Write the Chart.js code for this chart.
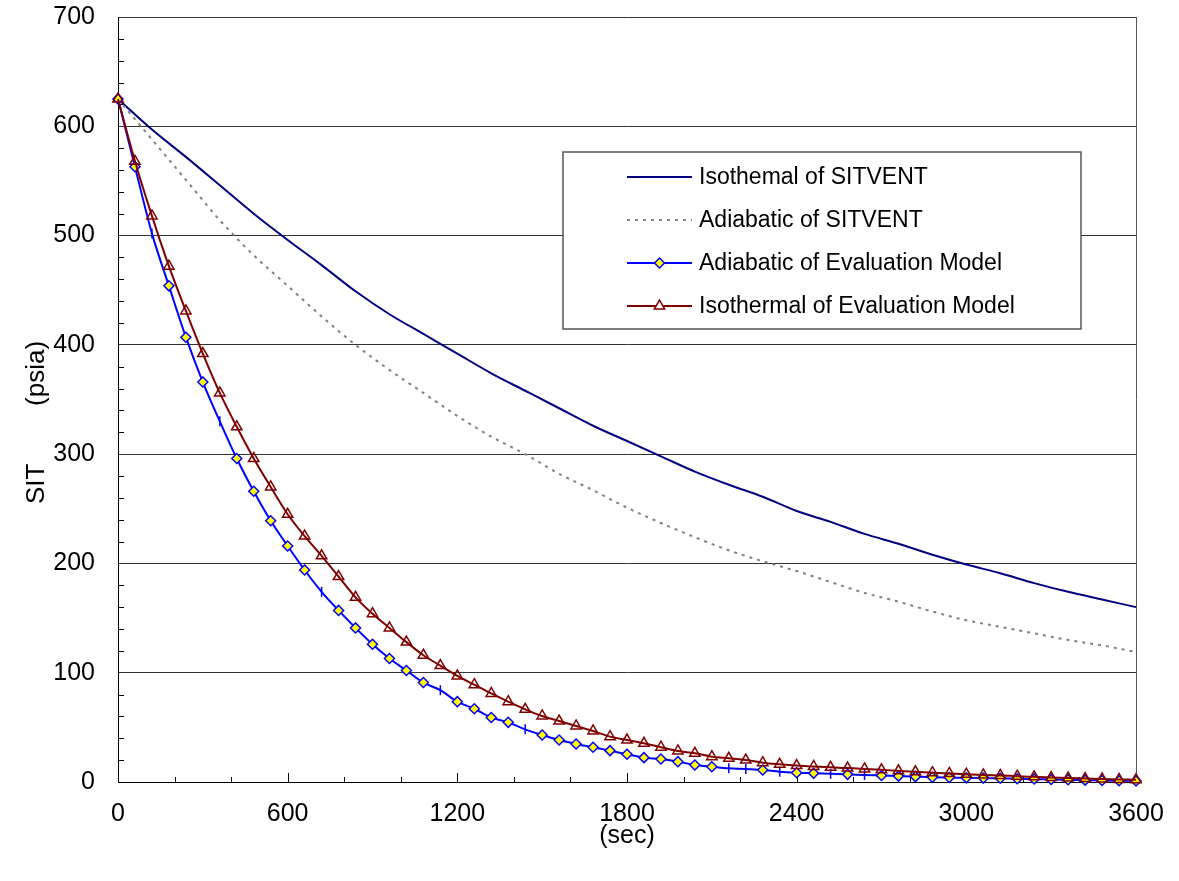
<!DOCTYPE html>
<html>
<head>
<meta charset="utf-8">
<script src="https://cdn.jsdelivr.net/npm/chart.js@4.4.0/dist/chart.umd.min.js"></script>
<style>
  html, body { margin: 0; padding: 0; background: #fff; }
</style>
</head>
<body>
<canvas id="sitChart" width="1179" height="881"></canvas>
<script>
// time axis of the evaluation model runs (sec)
const evalTimes = [0, 60, 120, 180, 240, 300, 360, 420, 480, 540, 600, 660, 720, 780, 840, 900,
  960, 1020, 1080, 1140, 1200, 1260, 1320, 1380, 1440, 1500, 1560, 1620, 1680, 1740, 1800,
  1860, 1920, 1980, 2040, 2100, 2160, 2220, 2280, 2340, 2400, 2460, 2520, 2580, 2640, 2700,
  2760, 2820, 2880, 2940, 3000, 3060, 3120, 3180, 3240, 3300, 3360, 3420, 3480, 3540, 3600];

const adiabaticEval = [625, 563, 502, 454, 407, 366, 330, 296, 266, 239, 216, 194, 174, 157, 141, 126,
  113, 102, 91, 84, 73.5, 67, 59, 54.6, 48.2, 43, 38.4, 34.8, 31.8, 28.7, 25.4,
  22.3, 21, 18.6, 15.6, 14, 12.5, 12, 11, 9.4, 8.5, 8, 7.5, 7, 6.4, 5.9,
  5.4, 4.9, 4.4, 4.1, 3.8, 3.6, 3.4, 3, 2.7, 2.3, 2, 1.7, 1.4, 1.2, 1];

const isothermalEval = [625, 568, 518, 472, 431, 392, 356, 325, 296, 270, 245, 225, 207, 188, 169, 154,
  141, 128, 116, 106.5, 97, 89, 81, 73.5, 66.5, 60.4, 55.8, 51.3, 46.7, 41.5, 38.4,
  35.4, 31.8, 28.4, 26.3, 23.2, 21.7, 20.1, 17.7, 16.2, 15, 14.2, 13.4, 12.7, 12, 11.1,
  10.2, 9.3, 8.5, 7.8, 7.1, 6.5, 6, 5.3, 4.7, 4.1, 3.6, 3.2, 2.8, 2.4, 2];

// SITVENT results
const sitventTimes = [0, 120, 240, 360, 480, 600, 720, 840, 960, 1080, 1200, 1320, 1440, 1560, 1680,
  1800, 1920, 2040, 2160, 2280, 2400, 2520, 2640, 2760, 2880, 3000, 3120, 3240, 3360, 3480, 3600];

const isothermalSitvent = [625, 597, 572, 546, 520, 496, 473, 449, 428, 410, 392, 374, 358, 342, 326,
  312, 298, 284, 272, 261, 248, 238, 227, 218, 208, 199, 191, 182, 174, 167, 160];

const adiabaticSitvent = [625, 588, 551, 514, 482, 454, 426, 400, 377, 356, 335, 316, 300, 282, 267,
  251, 237, 224, 212, 202, 193, 183, 173, 165, 156, 148, 142, 136, 130, 125, 119];

const seriesNames = ['Isothemal of SITVENT', 'Adiabatic of SITVENT',
  'Adiabatic of Evaluation Model', 'Isothermal of Evaluation Model'];

const xTicks = [0, 600, 1200, 1800, 2400, 3000, 3600];
const yTicks = [0, 100, 200, 300, 400, 500, 600, 700];

// points of the adiabatic run that show as a short dash instead of a diamond
const dashMarkerIdx = [2, 6, 12, 19, 24, 36, 37, 39, 42, 44];

const FONT = "'Liberation Sans', Arial, sans-serif";
const toXY = (xs, ys) => xs.map((x, i) => ({ x: x, y: ys[i] }));

const frameAndTicks = {
  id: 'frameAndTicks',
  beforeDatasetsDraw(chart) {
    const { ctx, chartArea: a, scales: { x, y } } = chart;
    ctx.save();
    ctx.strokeStyle = '#000';
    ctx.lineWidth = 1;
    ctx.beginPath();
    for (let v = 20; v < 700; v += 20) {
      if (v % 100 === 0) continue;
      const py = Math.round(y.getPixelForValue(v)) + 0.5;
      ctx.moveTo(a.left, py);
      ctx.lineTo(a.left + 6, py);
    }
    for (let v = 200; v < 3600; v += 200) {
      const px = Math.round(x.getPixelForValue(v)) + 0.5;
      const len = v % 600 === 0 ? 9 : 5;
      ctx.moveTo(px, a.bottom);
      ctx.lineTo(px, a.bottom - len);
    }
    ctx.stroke();
    ctx.strokeStyle = '#555';
    ctx.beginPath();
    ctx.moveTo(Math.round(a.right) + 0.5, a.top);
    ctx.lineTo(Math.round(a.right) + 0.5, a.bottom);
    ctx.stroke();
    ctx.restore();
  },
  afterDraw(chart) {
    const { ctx, chartArea: a } = chart;
    ctx.save();
    ctx.fillStyle = '#000';
    ctx.font = '26px ' + FONT;
    ctx.textAlign = 'center';
    ctx.textBaseline = 'middle';
    ctx.translate(37, (a.top + a.bottom) / 2 + 23);
    ctx.rotate(-Math.PI / 2);
    ctx.fillText('SIT        (psia)', 0, 0);
    ctx.restore();
  }
};

const boxLegend = {
  id: 'boxLegend',
  afterDatasetsDraw(chart) {
    const { ctx, chartArea: a } = chart;
    const bx = a.left + 445, by = a.top + 135, bw = 518, bh = 177;
    ctx.save();
    ctx.fillStyle = '#fff';
    ctx.fillRect(bx, by, bw, bh);
    ctx.strokeStyle = '#555';
    ctx.lineWidth = 1.5;
    ctx.strokeRect(bx, by, bw, bh);
    ctx.font = '23px ' + FONT;
    ctx.textBaseline = 'middle';
    chart.data.datasets.forEach((ds, i) => {
      const ry = by + 25 + i * 43;
      ctx.strokeStyle = ds.borderColor;
      ctx.lineWidth = 2;
      ctx.setLineDash(ds.borderDash || []);
      ctx.beginPath();
      ctx.moveTo(bx + 64, ry);
      ctx.lineTo(bx + 129, ry);
      ctx.stroke();
      ctx.setLineDash([]);
      if (ds.legendStyle) {
        ctx.fillStyle = ds.pointBackgroundColor === 'rgba(0,0,0,0)' ? '#fff' : ds.pointBackgroundColor;
        ctx.strokeStyle = ds.pointBorderColor;
        ctx.lineWidth = 1.5;
        Chart.helpers.drawPoint(ctx, { pointStyle: ds.legendStyle, radius: ds.legendRadius, rotation: 0, borderWidth: 1.5 }, bx + 96.5, ry);
      }
      ctx.fillStyle = '#000';
      ctx.fillText(seriesNames[i], bx + 136, ry + 1);
    });
    ctx.restore();
  }
};

const ctx = document.getElementById('sitChart').getContext('2d');
const sitChart = new Chart(ctx, {
  type: 'scatter',
  data: {
    datasets: [
      {
        label: seriesNames[0],
        data: toXY(sitventTimes, isothermalSitvent),
        showLine: true,
        borderColor: '#000080',
        borderWidth: 2,
        pointRadius: 0,
        cubicInterpolationMode: 'monotone',
        clip: false,
        order: 3
      },
      {
        label: seriesNames[1],
        data: toXY(sitventTimes, adiabaticSitvent),
        showLine: true,
        borderColor: '#808080',
        borderWidth: 2,
        borderDash: [3, 5],
        pointRadius: 0,
        cubicInterpolationMode: 'monotone',
        clip: false,
        order: 2
      },
      {
        label: seriesNames[2],
        data: toXY(evalTimes, adiabaticEval),
        showLine: true,
        borderColor: '#0000FF',
        borderWidth: 2,
        pointStyle: evalTimes.map((t, i) => dashMarkerIdx.includes(i) ? 'line' : 'rectRot'),
        rotation: evalTimes.map((t, i) => dashMarkerIdx.includes(i) ? 90 : 0),
        pointRadius: 5,
        pointBorderWidth: 1.5,
        pointBackgroundColor: '#FFFF00',
        pointBorderColor: '#0000FF',
        legendStyle: 'rectRot',
        legendRadius: 5,
        cubicInterpolationMode: 'monotone',
        clip: false,
        order: 1
      },
      {
        label: seriesNames[3],
        data: toXY(evalTimes, isothermalEval),
        showLine: true,
        borderColor: '#800000',
        borderWidth: 2,
        pointStyle: 'triangle',
        pointRadius: 6,
        pointBorderWidth: 1.5,
        pointBackgroundColor: 'rgba(0,0,0,0)',
        pointBorderColor: '#800000',
        legendStyle: 'triangle',
        legendRadius: 6,
        cubicInterpolationMode: 'monotone',
        clip: false,
        order: 0
      }
    ]
  },
  options: {
    responsive: false,
    animation: false,
    events: [],
    layout: { padding: { left: 0, top: 17, right: 43, bottom: 0 } },
    plugins: {
      legend: { display: false },
      tooltip: { enabled: false }
    },
    scales: {
      x: {
        type: 'linear',
        min: 0,
        max: 3600,
        afterFit: (scale) => { scale.height = 99; scale.paddingLeft = 0; scale.paddingRight = 0; },
        afterBuildTicks: (scale) => { scale.ticks = xTicks.map(v => ({ value: v })); },
        grid: { display: false, drawTicks: false },
        border: { color: '#000', width: 1 },
        ticks: { color: '#000', padding: 17, font: { family: FONT, size: 25 }, maxRotation: 0,
          callback: (v) => String(v) },
        title: { display: true, text: '(sec)', color: '#000', font: { family: FONT, size: 25 }, padding: { top: 0, bottom: 30 } }
      },
      y: {
        min: 0,
        max: 700,
        afterFit: (scale) => { scale.width = 118; scale.paddingTop = 0; scale.paddingBottom = 0; },
        afterBuildTicks: (scale) => { scale.ticks = yTicks.map(v => ({ value: v })); },
        grid: { color: '#333', lineWidth: 1, drawTicks: false },
        border: { color: '#000', width: 1 },
        ticks: { color: '#000', padding: 23, font: { family: FONT, size: 25 }, callback: (v) => String(v) }
      }
    }
  },
  plugins: [frameAndTicks, boxLegend]
});
</script>
</body>
</html>
